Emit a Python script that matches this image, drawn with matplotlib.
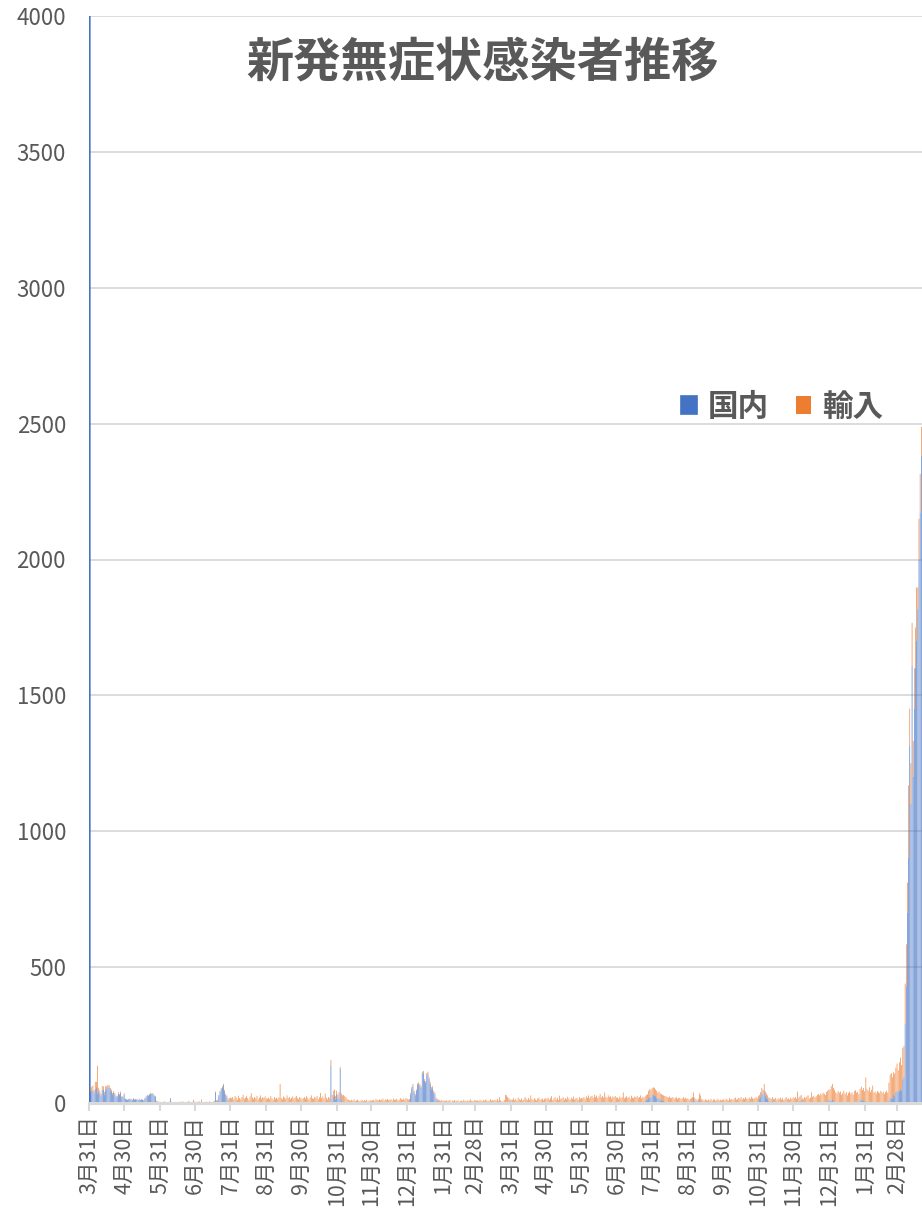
import numpy as np
import pandas as pd
import matplotlib
matplotlib.use('Agg')
import matplotlib.pyplot as plt

plt.rcParams['font.family'] = ['Noto Sans CJK JP', 'DejaVu Sans']

start_date = '2020-03-31'
end_date = '2022-03-21'
title = '新発無症状感染者推移'
series_names = ['国内', '輸入']

# stacked top (domestic + imported) and domestic part, daily
tot_2020 = (
    [4300]
    + [55, 60, 64, 47, 78, 78, 137, 56, 47, 34, 63, 61, 40, 61, 64, 66, 66, 55, 49, 37, 44, 37, 27, 27, 40, 33, 42, 25, 24, 36]
    + [16, 14, 12, 15, 17, 14, 12, 18, 13, 15, 14, 12, 16, 11, 14, 13, 10, 18, 24, 30, 28, 33, 37, 35, 36, 28, 25, 8, 6, 5, 4]
    + [3, 2, 4, 6, 3, 2, 1, 5, 18, 4, 2, 3, 1, 2, 3, 4, 2, 5, 3, 6, 2, 4, 3, 2, 8, 3, 2, 4, 12, 5]
    + [4, 3, 5, 6, 3, 13, 4, 3, 2, 5, 4, 3, 6, 4, 3, 5, 8, 42, 10, 12, 30, 45, 55, 62, 70, 48, 33, 27, 15, 18, 20]
    + [18, 22, 15, 25, 20, 12, 27, 18, 14, 22, 30, 16, 20, 25, 18, 12, 24, 36, 20, 15, 22, 18, 26, 14, 20, 28, 16, 22, 19, 24, 17]
    + [16, 20, 14, 25, 18, 12, 22, 16, 19, 15, 21, 70, 18, 14, 24, 20, 16, 28, 18, 22, 14, 19, 24, 16, 21, 26, 18, 14, 22, 19]
    + [14, 18, 22, 16, 25, 19, 12, 20, 28, 17, 15, 23, 19, 26, 14, 21, 37, 18, 24, 16, 35, 20, 13, 22, 18, 158, 30, 45, 50, 25, 45]
    + [30, 40, 132, 35, 28, 30, 25, 22, 15, 12, 10, 8, 12, 9, 14, 7, 10, 12, 8, 6, 9, 11, 7, 10, 8, 12, 6, 9, 10, 8]
    + [10, 12, 8, 15, 11, 9, 14, 10, 12, 16, 9, 13, 11, 15, 10, 12, 14, 9, 17, 11, 13, 15, 10, 12, 18, 14, 11, 16, 13, 19, 15]
)
dom_2020 = (
    [4300]
    + [40, 48, 44, 37, 53, 58, 35, 42, 35, 26, 48, 49, 30, 47, 54, 58, 58, 47, 43, 32, 38, 32, 23, 23, 35, 29, 37, 22, 21, 32]
    + [15, 13, 12, 13, 16, 13, 12, 16, 12, 14, 14, 11, 14, 11, 13, 12, 10, 16, 23, 28, 27, 31, 34, 33, 34, 27, 23, 5, 4, 3, 3]
    + [0, 1, 0, 1, 0, 0, 0, 1, 17, 1, 0, 0, 0, 0, 0, 2, 1, 1, 1, 1, 1, 1, 0, 0, 1, 1, 1, 1, 0, 1]
    + [1, 1, 1, 1, 0, 1, 1, 1, 0, 1, 1, 1, 1, 1, 1, 1, 5, 40, 6, 9, 25, 41, 51, 57, 66, 43, 29, 21, 6, 6, 6]
    + [3, 2, 2, 3, 2, 1, 2, 2, 1, 2, 3, 1, 2, 2, 1, 1, 2, 2, 1, 1, 2, 1, 2, 1, 1, 2, 1, 2, 1, 2, 1]
    + [1, 2, 1, 1, 2, 1, 1, 1, 2, 1, 1, 2, 1, 1, 1, 2, 1, 1, 1, 1, 1, 2, 1, 1, 1, 1, 1, 1, 1, 1]
    + [1, 1, 2, 1, 1, 1, 0, 1, 2, 1, 1, 1, 1, 2, 0, 1, 2, 1, 1, 0, 2, 1, 0, 1, 1, 137, 10, 22, 30, 12, 35]
    + [15, 20, 125, 10, 5, 4, 3, 3, 2, 1, 1, 0, 1, 1, 1, 0, 1, 1, 0, 0, 1, 1, 0, 1, 0, 1, 0, 1, 1, 0]
    + [1, 0, 1, 1, 0, 1, 1, 0, 1, 2, 0, 1, 1, 2, 1, 1, 1, 0, 2, 1, 1, 2, 1, 1, 2, 3, 2, 4, 3, 5, 4]
)
tot_2021 = (
    [12, 15, 37, 58, 70, 45, 33, 50, 72, 76, 70, 62, 115, 118, 88, 80, 110, 115, 94, 75, 58, 62, 45, 39, 20, 15, 12, 10, 8, 11, 9]
    + [9, 7, 10, 6, 8, 12, 5, 9, 7, 11, 6, 8, 10, 5, 7, 9, 6, 12, 8, 7, 10, 6, 9, 13, 8, 7, 11, 9]
    + [8, 10, 7, 12, 9, 6, 11, 8, 13, 10, 7, 9, 14, 8, 11, 10, 12, 9, 15, 8, 21, 10, 6, 5, 11, 30, 28, 22, 18, 14, 12]
    + [12, 18, 10, 15, 8, 20, 14, 11, 17, 9, 13, 22, 16, 10, 19, 12, 28, 15, 11, 18, 13, 9, 16, 20, 12, 14, 17, 10, 15, 19]
    + [14, 20, 12, 18, 25, 10, 16, 22, 13, 19, 11, 27, 15, 17, 21, 12, 18, 14, 23, 16, 11, 20, 15, 24, 13, 17, 19, 12, 22, 16, 18]
    + [18, 22, 15, 25, 20, 28, 17, 24, 26, 19, 30, 22, 27, 18, 24, 33, 21, 26, 20, 39, 23, 19, 28, 22, 25, 17, 24, 21, 26, 20]
    + [20, 15, 24, 18, 22, 39, 17, 21, 25, 19, 23, 16, 27, 20, 18, 24, 21, 26, 19, 22, 28, 17, 23, 20, 25, 30, 32, 45, 52, 48, 55]
    + [58, 55, 50, 45, 38, 42, 35, 33, 30, 28, 26, 25, 22, 20, 24, 18, 20, 22, 16, 19, 21, 15, 18, 20, 14, 17, 22, 16, 19, 15, 18]
    + [12, 15, 18, 22, 39, 20, 14, 10, 16, 35, 28, 15, 12, 9, 14, 11, 8, 13, 10, 15, 9, 12, 14, 8, 11, 16, 10, 13, 9, 12]
    + [14, 10, 16, 12, 9, 18, 13, 15, 11, 17, 20, 12, 14, 19, 16, 22, 13, 18, 15, 21, 17, 14, 20, 16, 23, 18, 15, 19, 22, 17, 25]
    + [30, 40, 55, 48, 70, 42, 35, 28, 20, 18, 15, 22, 16, 14, 19, 12, 17, 15, 20, 13, 18, 11, 16, 22, 14, 17, 12, 19, 15, 21]
    + [18, 22, 15, 42, 20, 25, 30, 17, 14, 22, 19, 24, 28, 16, 20, 39, 23, 27, 21, 25, 30, 33, 28, 35, 31, 38, 34, 29, 40, 45, 49]
)
dom_2021 = (
    [3, 5, 30, 52, 64, 40, 28, 45, 66, 70, 64, 56, 108, 110, 82, 74, 102, 108, 86, 68, 50, 54, 38, 32, 13, 8, 5, 3, 2, 3, 2]
    + [2, 1, 1, 0, 1, 1, 0, 1, 0, 1, 0, 1, 1, 0, 0, 1, 0, 1, 0, 0, 1, 0, 0, 1, 0, 0, 1, 0]
    + [0, 1, 0, 1, 0, 0, 1, 0, 1, 0, 0, 1, 0, 0, 1, 0, 1, 0, 1, 0, 1, 0, 0, 0, 1, 2, 1, 1, 0, 10, 0]
    + [0, 1, 0, 0, 0, 1, 0, 0, 1, 0, 0, 1, 0, 0, 1, 0, 2, 0, 0, 1, 0, 0, 0, 1, 0, 0, 1, 0, 0, 1]
    + [0, 0, 1, 0, 1, 0, 0, 1, 0, 0, 0, 1, 0, 0, 1, 0, 0, 0, 1, 0, 0, 1, 0, 1, 0, 0, 1, 0, 2, 1, 1]
    + [0, 0, 1, 0, 0, 1, 0, 0, 2, 0, 1, 0, 0, 3, 0, 1, 0, 0, 0, 2, 0, 0, 1, 0, 0, 0, 1, 0, 0, 0]
    + [0, 0, 0, 1, 0, 1, 0, 0, 1, 0, 0, 0, 1, 0, 0, 0, 0, 1, 0, 0, 2, 1, 3, 5, 8, 10, 12, 18, 22, 20, 30]
    + [30, 28, 25, 20, 15, 18, 12, 10, 8, 8, 6, 5, 4, 3, 4, 2, 2, 3, 1, 1, 1, 0, 1, 1, 0, 1, 1, 0, 1, 0, 0]
    + [0, 0, 1, 3, 18, 8, 4, 2, 3, 10, 6, 3, 2, 1, 2, 1, 0, 1, 0, 1, 0, 0, 1, 0, 0, 1, 0, 0, 0, 0]
    + [0, 0, 0, 0, 0, 0, 0, 0, 0, 0, 1, 0, 0, 0, 0, 1, 0, 0, 1, 0, 3, 5, 6, 4, 5, 3, 4, 5, 3, 4, 6]
    + [15, 22, 38, 30, 45, 28, 20, 14, 8, 6, 4, 8, 5, 3, 5, 2, 4, 3, 5, 2, 3, 1, 2, 4, 1, 2, 1, 3, 1, 2]
    + [1, 2, 1, 3, 5, 8, 12, 4, 2, 3, 2, 3, 4, 2, 2, 4, 3, 3, 2, 3, 4, 5, 3, 4, 3, 5, 4, 3, 5, 6, 12]
)
tot_2022 = (
    [50, 62, 70, 55, 48, 40, 35, 44, 38, 42, 30, 36, 45, 33, 40, 28, 37, 42, 35, 39, 30, 44, 47, 38, 41, 33, 52, 60, 48, 55, 43]
    + [94, 52, 45, 58, 40, 48, 64, 38, 42, 35, 44, 40, 36, 45, 38, 42, 33, 40, 45, 38, 75, 105, 110, 95, 113, 108, 130, 145]
    + [120, 150, 167, 140, 203, 210, 439, 584, 811, 1169, 1451, 1250, 1767, 1332, 1600, 1750, 1897, 1897, 2150, 2315, 2488]
)
dom_2022 = (
    [10, 8, 14, 6, 5, 4, 3, 5, 3, 4, 2, 3, 5, 2, 3, 2, 3, 4, 2, 3, 2, 5, 6, 4, 5, 3, 12, 14, 8, 10, 6]
    + [8, 4, 3, 6, 3, 4, 6, 3, 4, 2, 3, 3, 2, 3, 2, 3, 2, 3, 4, 3, 10, 20, 18, 15, 30, 25, 40, 45]
    + [40, 45, 50, 45, 87, 95, 290, 430, 700, 903, 1314, 1100, 1608, 1200, 1450, 1600, 1700, 1817, 2000, 2173, 2381]
)
y_ticks = [0, 500, 1000, 1500, 2000, 2500, 3000, 3500, 4000]

dates = pd.date_range(start_date, end_date, freq='D')
domestic = np.array(dom_2020 + dom_2021 + dom_2022, dtype=float)
total = np.array(tot_2020 + tot_2021 + tot_2022, dtype=float)
imported = total - domestic
n = len(dates)
assert len(domestic) == n and len(total) == n, (len(domestic), len(total), n)
x = np.arange(n)

W, H = 922, 1215
fig = plt.figure(figsize=(W / 100, H / 100), dpi=100)
ax = fig.add_axes([89 / W, 1 - 1103 / H, 1 - 89 / W, (1103 - 16) / H])

blue = '#4472C4'
orange = '#ED7D31'
grey = '#595959'
grid = '#D9D9D9'

b1 = ax.bar(x, domestic, width=0.55, color=blue, linewidth=0, label=series_names[0])
b2 = ax.bar(x, imported, bottom=domestic, width=0.55, color=orange, linewidth=0, label=series_names[1])
for p in list(b1.patches) + list(b2.patches):
    p.set_snap(False)
# first (clipped) bar drawn as a stronger line like the reference
b1.patches[0].set_linewidth(1.2)
b1.patches[0].set_edgecolor(blue)

ax.set_ylim(0, 4000)
ax.set_xlim(-0.4, 720.6)
ax.set_yticks(y_ticks)
ax.set_yticklabels([str(v) for v in y_ticks])
ax.yaxis.grid(True, color=grid, linewidth=1.3)
ax.set_axisbelow(True)

me = np.where(dates.is_month_end)[0]
ax.set_xticks(me)
ax.set_xticklabels([f'{dates[i].month}月{dates[i].day}日' for i in me], rotation=90)

for s in ['left', 'right', 'top']:
    ax.spines[s].set_visible(False)
ax.spines['bottom'].set_color(grid)
ax.spines['bottom'].set_linewidth(2.2)

ax.tick_params(axis='y', length=0, pad=16.5, labelsize=16, labelcolor=grey)
ax.tick_params(axis='x', length=6, width=1.5, color=grid, pad=3, labelsize=15.5, labelcolor=grey)

fig.text(483 / W, 1 - 62 / H, title, ha='center', va='center',
         fontsize=34, fontweight='bold', color=grey)

ax.legend(handles=[b1, b2], loc='center', bbox_to_anchor=(782 / W, 1 - 407 / H),
          bbox_transform=fig.transFigure, ncol=2, frameon=False,
          handlelength=0.5, handleheight=0.5, handletextpad=0.35, columnspacing=0.9,
          prop={'weight': 'bold', 'size': 22}, labelcolor=grey)

fig.savefig('out.png', dpi=100)
